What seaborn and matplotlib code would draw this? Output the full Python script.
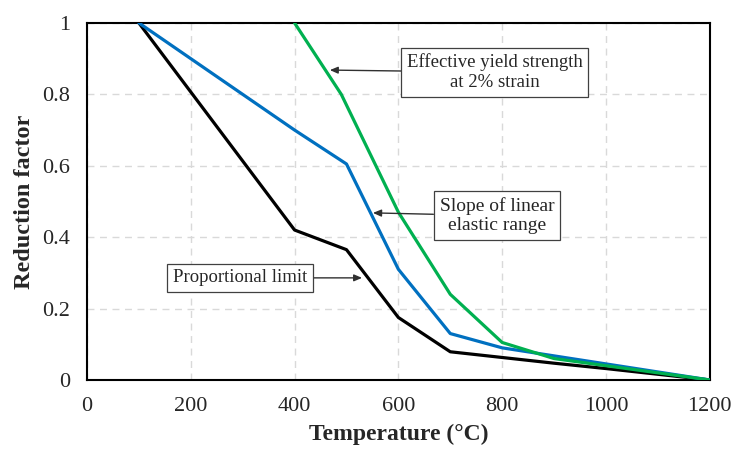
import matplotlib
matplotlib.use("Agg")
import matplotlib.pyplot as plt
import seaborn as sns
import pandas as pd

temp_prop = [100, 400, 500, 600, 700, 800, 900, 1000, 1100, 1200]
k_prop = [1.0, 0.42, 0.365, 0.175, 0.079, 0.063, 0.047, 0.032, 0.016, 0.0]

temp_slope = [100, 200, 300, 400, 500, 600, 700, 800, 900, 1000, 1100, 1200]
k_slope = [1.0, 0.9, 0.8, 0.7, 0.605, 0.31, 0.13, 0.09, 0.0675, 0.045, 0.0225, 0.0]

temp_yield = [400, 490, 600, 700, 800, 900, 1000, 1100, 1200]
k_yield = [1.0, 0.8, 0.47, 0.24, 0.105, 0.06, 0.04, 0.02, 0.0]

labels = ["Proportional limit", "Slope of linear\nelastic range", "Effective yield strength\nat 2% strain"]
x_ticks = [0, 200, 400, 600, 800, 1000, 1200]
y_ticks = [0, 0.2, 0.4, 0.6, 0.8, 1]
y_tick_labels = ["0", "0.2", "0.4", "0.6", "0.8", "1"]

sns.set_style("white")
plt.rcParams["font.family"] = ["Liberation Serif", "DejaVu Serif"]

df = pd.concat([
    pd.DataFrame({"T": temp_prop, "k": k_prop, "s": "prop"}),
    pd.DataFrame({"T": temp_slope, "k": k_slope, "s": "slope"}),
    pd.DataFrame({"T": temp_yield, "k": k_yield, "s": "yield"}),
])

fig = plt.figure(figsize=(7.34, 4.5), dpi=100)
ax = fig.add_axes([0.1185, 0.1556, 0.8485, 0.7934])

sns.lineplot(data=df, x="T", y="k", hue="s", sort=False, estimator=None,
             palette={"prop": "#000000", "slope": "#0070C0", "yield": "#00B050"},
             linewidth=2.3, legend=False, ax=ax, zorder=3)

ax.set_xlim(0, 1200)
ax.set_ylim(0, 1)
ax.set_xticks(x_ticks)
ax.set_yticks(y_ticks)
ax.set_yticklabels(y_tick_labels)
ax.tick_params(axis="both", length=0, labelsize=16, labelcolor="#262626")
ax.tick_params(axis="x", pad=12)
ax.tick_params(axis="y", pad=12)
ax.grid(True, linestyle=(0, (5, 4)), color="#d9d9d9", linewidth=1)
for sp in ax.spines.values():
    sp.set_visible(True)
    sp.set_color("black")
    sp.set_linewidth(1.5)

ax.set_xlabel("Temperature (°C)", fontsize=17, fontweight="bold", labelpad=6)
ax.set_ylabel("Reduction factor", fontsize=17.5, fontweight="bold", labelpad=5)

box = dict(boxstyle="square,pad=0.3", fc="white", ec="#404040", lw=0.9)
arrow = dict(arrowstyle="-|>,head_length=0.35,head_width=0.15", color="#303030", lw=1.0,
             shrinkA=0, shrinkB=0)
ax.annotate(labels[2], xy=(468, 0.868), xytext=(786, 0.862), fontsize=13.5,
            ha="center", va="center", bbox=box, arrowprops=arrow, linespacing=1.25, zorder=5)
ax.annotate(labels[1], xy=(551, 0.468), xytext=(790, 0.46), fontsize=14,
            ha="center", va="center", bbox=box, arrowprops=arrow, linespacing=1.2, zorder=5)
ax.annotate(labels[0], xy=(530, 0.286), xytext=(295, 0.286), fontsize=13.5,
            ha="center", va="center", bbox=box, arrowprops=arrow, zorder=5)

fig.savefig("out.png", dpi=100)
